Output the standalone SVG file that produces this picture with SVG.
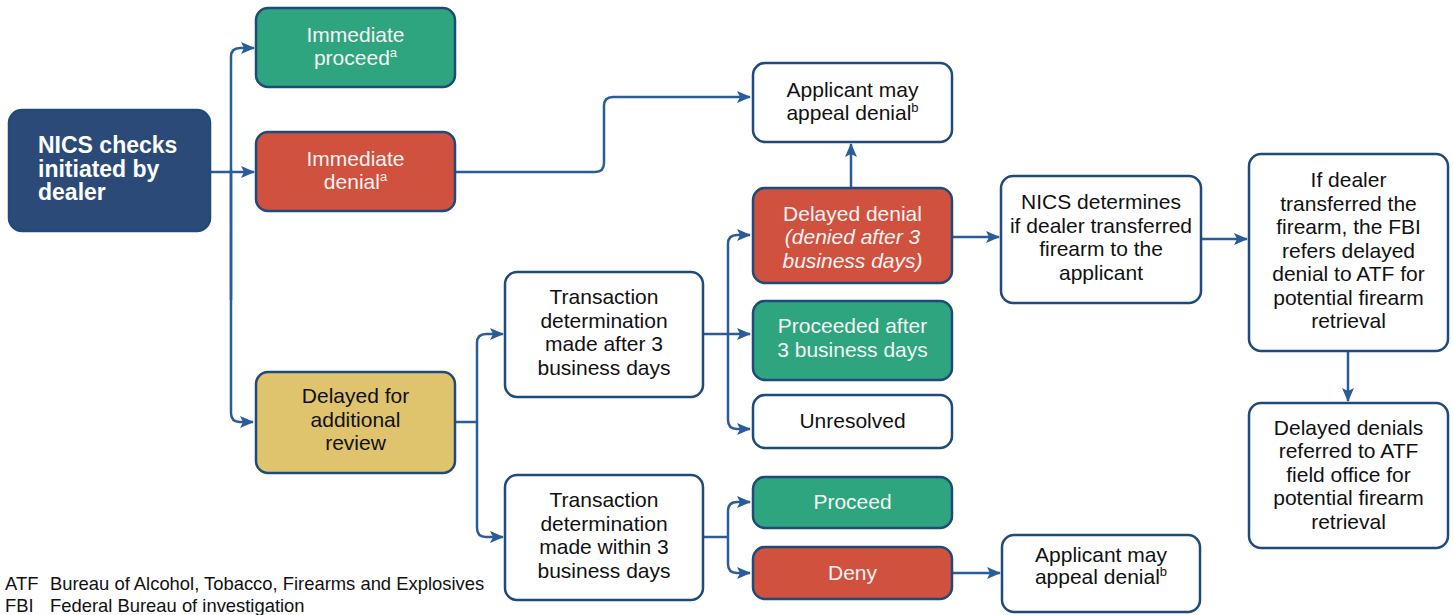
<svg xmlns="http://www.w3.org/2000/svg" width="1453" height="615" viewBox="0 0 1453 615">
<style>
.box{stroke:#1F4A7C;stroke-width:2.5}
.navy{fill:#2B4A78}
.green{fill:#2FA57F}
.red{fill:#D1513F}
.gold{fill:#E0C36D}
.white{fill:#FFFFFF}
.t{font-family:"Liberation Sans",Arial,sans-serif;font-size:21px;text-anchor:middle;fill:#111111}
.tw{fill:#F4F4F4}
.nics{font-family:"Liberation Sans",Arial,sans-serif;font-size:23px;font-weight:bold;fill:#FFFFFF}
.leg{font-family:"Liberation Sans",Arial,sans-serif;font-size:18.4px;fill:#111111}
.sup{font-size:13px}
.c{fill:none;stroke:#2A5D98;stroke-width:2.5}
</style>
<defs>
<marker id="ah" markerUnits="userSpaceOnUse" markerWidth="14" markerHeight="14" viewBox="0 0 14 14" refX="13" refY="7" orient="auto">
<path d="M0,1 L14,7 L0,13 L3,7 Z" fill="#2A5D98"/>
</marker>
</defs>
<rect width="1453" height="615" fill="#FFFFFF"/>
<g id="connectors">
<path class="c" d="M210,172 H254" marker-end="url(#ah)"/>
<path class="c" d="M231,300 V57 Q231,48 240,48 H254" marker-end="url(#ah)"/>
<path class="c" d="M231,170 V413 Q231,422 240,422 H253" marker-end="url(#ah)"/>
<path class="c" d="M455,172 H595 Q604,172 604,163 V106 Q604,97 613,97 H750" marker-end="url(#ah)"/>
<path class="c" d="M851,188 V144" marker-end="url(#ah)"/>
<path class="c" d="M455,422 H477"/>
<path class="c" d="M477,422 V343 Q477,334 486,334 H503" marker-end="url(#ah)"/>
<path class="c" d="M477,422 V528 Q477,537 486,537 H503" marker-end="url(#ah)"/>
<path class="c" d="M703,334 H750" marker-end="url(#ah)"/>
<path class="c" d="M728,334 V244 Q728,235 737,235 H750" marker-end="url(#ah)"/>
<path class="c" d="M728,334 V420 Q728,429 737,429 H750" marker-end="url(#ah)"/>
<path class="c" d="M703,537 H728"/>
<path class="c" d="M728,537 V511 Q728,502 737,502 H750" marker-end="url(#ah)"/>
<path class="c" d="M728,537 V564 Q728,573 737,573 H750" marker-end="url(#ah)"/>
<path class="c" d="M952,573 H1000" marker-end="url(#ah)"/>
<path class="c" d="M951,237 H999" marker-end="url(#ah)"/>
<path class="c" d="M1201,239 H1247" marker-end="url(#ah)"/>
<path class="c" d="M1348,351 V401" marker-end="url(#ah)"/>
</g>
<g id="nics-checks">
<rect class="box navy" x="9" y="110" width="201" height="121" rx="13"/>
<text class="nics" x="38" y="153">NICS checks</text>
<text class="nics" x="38" y="177">initiated by</text>
<text class="nics" x="38" y="200">dealer</text>
</g>
<g id="immediate-proceed">
<rect class="box green" x="256" y="8" width="199" height="79" rx="12"/>
<text class="t tw" x="355.5" y="42">Immediate</text>
<text class="t tw" x="355.5" y="65">proceed<tspan class="sup" dy="-8">a</tspan></text>
</g>
<g id="immediate-denial">
<rect class="box red" x="256" y="132" width="199" height="79" rx="12"/>
<text class="t tw" x="355.5" y="166">Immediate</text>
<text class="t tw" x="355.5" y="189">denial<tspan class="sup" dy="-8">a</tspan></text>
</g>
<g id="delayed-review">
<rect class="box gold" x="256" y="372" width="199" height="101" rx="12"/>
<text class="t" x="355.5" y="403">Delayed for</text>
<text class="t" x="355.5" y="427">additional</text>
<text class="t" x="355.5" y="450">review</text>
</g>
<g id="transaction-after">
<rect class="box white" x="505" y="272" width="198" height="125" rx="12"/>
<text class="t" x="604" y="304">Transaction</text>
<text class="t" x="604" y="328">determination</text>
<text class="t" x="604" y="351">made after 3</text>
<text class="t" x="604" y="375">business days</text>
</g>
<g id="transaction-within">
<rect class="box white" x="505" y="475" width="198" height="125" rx="12"/>
<text class="t" x="604" y="507">Transaction</text>
<text class="t" x="604" y="531">determination</text>
<text class="t" x="604" y="554">made within 3</text>
<text class="t" x="604" y="578">business days</text>
</g>
<g id="appeal-top">
<rect class="box white" x="753" y="63" width="199" height="79" rx="12"/>
<text class="t" x="852.5" y="97">Applicant may</text>
<text class="t" x="852.5" y="120">appeal denial<tspan class="sup" dy="-8">b</tspan></text>
</g>
<g id="delayed-denial">
<rect class="box red" x="753" y="188" width="199" height="95" rx="12"/>
<text class="t tw" x="852.5" y="221">Delayed denial</text>
<text class="t tw" x="852.5" y="244" font-style="italic">(denied after 3</text>
<text class="t tw" x="852.5" y="268" font-style="italic">business days)</text>
</g>
<g id="proceeded-after">
<rect class="box green" x="753" y="301" width="199" height="79" rx="12"/>
<text class="t tw" x="852.5" y="333">Proceeded after</text>
<text class="t tw" x="852.5" y="357">3 business days</text>
</g>
<g id="unresolved">
<rect class="box white" x="753" y="395" width="199" height="53" rx="12"/>
<text class="t" x="852.5" y="428">Unresolved</text>
</g>
<g id="proceed">
<rect class="box green" x="753" y="477" width="199" height="51" rx="12"/>
<text class="t tw" x="852.5" y="509">Proceed</text>
</g>
<g id="deny">
<rect class="box red" x="753" y="547" width="199" height="52" rx="12"/>
<text class="t tw" x="852.5" y="580">Deny</text>
</g>
<g id="nics-determines">
<rect class="box white" x="1001" y="176" width="200" height="127" rx="12"/>
<text class="t" x="1101" y="209">NICS determines</text>
<text class="t" x="1101" y="233">if dealer transferred</text>
<text class="t" x="1101" y="256">firearm to the</text>
<text class="t" x="1101" y="280">applicant</text>
</g>
<g id="fbi-refers">
<rect class="box white" x="1249" y="154" width="199" height="197" rx="12"/>
<text class="t" x="1348.5" y="187">If dealer</text>
<text class="t" x="1348.5" y="211">transferred the</text>
<text class="t" x="1348.5" y="234">firearm, the FBI</text>
<text class="t" x="1348.5" y="258">refers delayed</text>
<text class="t" x="1348.5" y="281">denial to ATF for</text>
<text class="t" x="1348.5" y="305">potential firearm</text>
<text class="t" x="1348.5" y="328">retrieval</text>
</g>
<g id="atf-field-office">
<rect class="box white" x="1249" y="403" width="199" height="145" rx="12"/>
<text class="t" x="1348.5" y="435">Delayed denials</text>
<text class="t" x="1348.5" y="458">referred to ATF</text>
<text class="t" x="1348.5" y="482">field office for</text>
<text class="t" x="1348.5" y="505">potential firearm</text>
<text class="t" x="1348.5" y="529">retrieval</text>
</g>
<g id="appeal-bottom">
<rect class="box white" x="1002" y="535" width="198" height="77" rx="12"/>
<text class="t" x="1101" y="562">Applicant may</text>
<text class="t" x="1101" y="584">appeal denial<tspan class="sup" dy="-8">b</tspan></text>
</g>
<g id="legend">
<text class="leg" x="5" y="590">ATF</text>
<text class="leg" x="50" y="590">Bureau of Alcohol, Tobacco, Firearms and Explosives</text>
<text class="leg" x="5" y="612">FBI</text>
<text class="leg" x="50" y="612">Federal Bureau of investigation</text>
</g>
</svg>
